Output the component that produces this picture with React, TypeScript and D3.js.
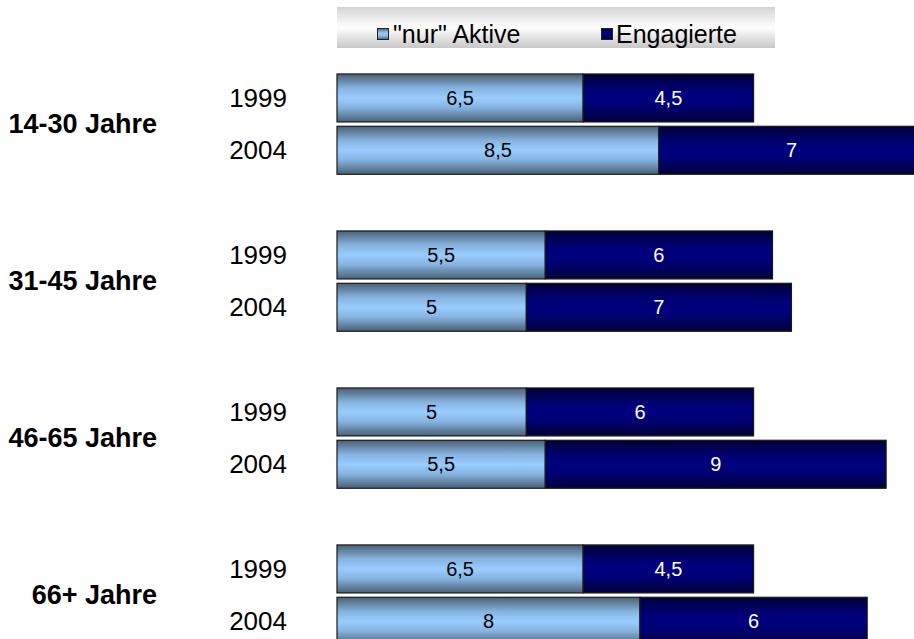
import React from "react";
import * as d3 from "d3";

const groups = ["14-30 Jahre", "31-45 Jahre", "46-65 Jahre", "66+ Jahre"];
const years = ["1999", "2004"];
// values per group, per year
const nurAktive = [
  [6.5, 8.5],
  [5.5, 5],
  [5, 5.5],
  [6.5, 8],
];
const engagierte = [
  [4.5, 7],
  [6, 7],
  [6, 9],
  [4.5, 6],
];
const seriesNames = ['"nur" Aktive', "Engagierte"];

const W = 914;
const H = 639;

function fmt(v: number) {
  return String(v).replace(".", ",");
}

export default function App() {
  const slots: string[] = [];
  groups.forEach((g, gi) => {
    years.forEach((y) => slots.push(`${gi}-${y}`));
    slots.push(`${gi}-gap`);
  });
  const y = d3
    .scaleBand<string>()
    .domain(slots)
    .range([71.8, 71.8 + 12 * 52.33])
    .paddingInner(0.083)
    .paddingOuter(0.0415);
  const x = d3.scaleLinear().domain([0, 15.5]).range([337, 337 + 15.5 * 37.87]);
  const font = "'Liberation Sans', Arial, sans-serif";

  return (
    <svg
      width={W}
      height={H}
      style={{ position: "absolute", left: 0, top: 0, display: "block" }}
      fontFamily={font}
    >
      <defs>
        <linearGradient id="gLight" x1="0" y1="0" x2="0" y2="1">
          <stop offset="0" stopColor="#4a6075" />
          <stop offset="0.3" stopColor="#86b4e0" />
          <stop offset="0.5" stopColor="#99ccff" />
          <stop offset="0.7" stopColor="#86b4e0" />
          <stop offset="1" stopColor="#4a6075" />
        </linearGradient>
        <linearGradient id="gDark" x1="0" y1="0" x2="0" y2="1">
          <stop offset="0" stopColor="#000038" />
          <stop offset="0.3" stopColor="#000070" />
          <stop offset="0.5" stopColor="#000080" />
          <stop offset="0.7" stopColor="#000070" />
          <stop offset="1" stopColor="#000038" />
        </linearGradient>
        <linearGradient id="gLegend" x1="0" y1="0" x2="0" y2="1">
          <stop offset="0" stopColor="#d4d4d4" />
          <stop offset="0.5" stopColor="#ffffff" />
          <stop offset="1" stopColor="#c8c8c8" />
        </linearGradient>
        <clipPath id="clipPlot">
          <rect x={0} y={0} width={W} height={H} />
        </clipPath>
      </defs>
      <rect x={0} y={0} width={W} height={H} fill="#fff" />

      {/* legend */}
      <rect x={337} y={7} width={438} height={41} fill="url(#gLegend)" />
      <rect x={377.5} y={28.5} width={11} height={11} fill="url(#gLight)" stroke="#222" strokeWidth={1} />
      <text x={393} y={34} dominantBaseline="central" fontSize={25} fill="#000">
        {seriesNames[0]}
      </text>
      <rect x={601.5} y={28.5} width={11} height={11} fill="url(#gDark)" stroke="#222" strokeWidth={1} />
      <text x={616} y={34} dominantBaseline="central" fontSize={25} fill="#000">
        {seriesNames[1]}
      </text>

      {groups.map((g, gi) => {
        const y0 = y(`${gi}-${years[0]}`)!;
        const y1 = y(`${gi}-${years[1]}`)! + y.bandwidth();
        return (
          <g key={g}>
            <text
              x={157}
              y={(y0 + y1) / 2}
              textAnchor="end"
              dominantBaseline="central"
              fontSize={27}
              fontWeight="bold"
              fill="#000"
            >
              {g}
            </text>
            {years.map((yr, yi) => {
              const by = y(`${gi}-${yr}`)!;
              const bh = y.bandwidth();
              const a = nurAktive[gi][yi];
              const e = engagierte[gi][yi];
              return (
                <g key={yr}>
                  <text
                    x={287}
                    y={by + bh / 2}
                    textAnchor="end"
                    dominantBaseline="central"
                    fontSize={26}
                    fill="#000"
                  >
                    {yr}
                  </text>
                  <g clipPath="url(#clipPlot)">
                    <rect
                      x={x(0)}
                      y={by}
                      width={x(a) - x(0)}
                      height={bh}
                      fill="url(#gLight)"
                      stroke="#1a1a1a"
                      strokeWidth={1.2}
                    />
                    <rect
                      x={x(a)}
                      y={by}
                      width={x(a + e) - x(a)}
                      height={bh}
                      fill="url(#gDark)"
                      stroke="#1a1a1a"
                      strokeWidth={1.2}
                    />
                    <text
                      x={(x(0) + x(a)) / 2}
                      y={by + bh / 2}
                      textAnchor="middle"
                      dominantBaseline="central"
                      fontSize={20}
                      fill="#000"
                    >
                      {fmt(a)}
                    </text>
                    <text
                      x={(x(a) + x(a + e)) / 2}
                      y={by + bh / 2}
                      textAnchor="middle"
                      dominantBaseline="central"
                      fontSize={20}
                      fill="#fff"
                    >
                      {fmt(e)}
                    </text>
                  </g>
                </g>
              );
            })}
          </g>
        );
      })}
    </svg>
  );
}
